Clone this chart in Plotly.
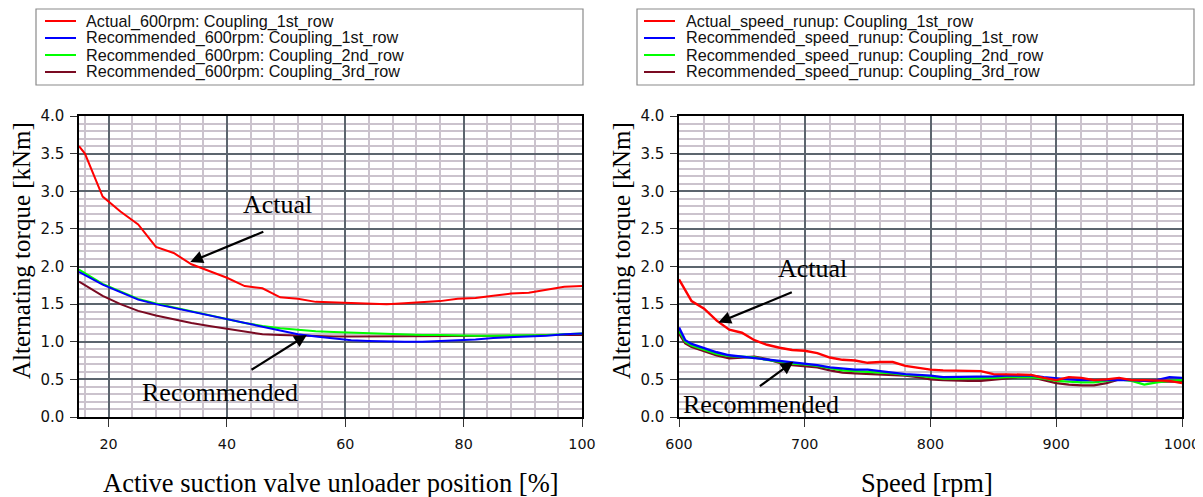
import plotly.graph_objects as go

# ---------------- data ----------------
pos_x = [15, 16, 19, 22, 25, 28, 31, 34, 37, 40, 43, 46, 49, 52, 55, 58, 61, 64, 67, 70,
         73, 76, 79, 82, 85, 88, 91, 94, 97, 100]
pos_actual_1st = [3.60, 3.50, 2.93, 2.73, 2.56, 2.26, 2.18, 2.03, 1.94, 1.85, 1.74, 1.71, 1.59, 1.57,
                  1.53, 1.52, 1.51, 1.50, 1.50, 1.51, 1.52, 1.54, 1.57, 1.58, 1.61, 1.64, 1.65, 1.69,
                  1.73, 1.74]
pos_rec_1st = [1.93, 1.89, 1.76, 1.66, 1.56, 1.50, 1.45, 1.40, 1.34, 1.29, 1.24, 1.19, 1.15, 1.10,
               1.07, 1.04, 1.02, 1.01, 1.00, 1.00, 1.00, 1.01, 1.02, 1.03, 1.05, 1.06, 1.07, 1.08,
               1.10, 1.11]
pos_rec_2nd = [1.96, 1.91, 1.77, 1.67, 1.57, 1.51, 1.46, 1.41, 1.35, 1.30, 1.25, 1.21, 1.18, 1.16,
               1.14, 1.13, 1.12, 1.11, 1.10, 1.10, 1.09, 1.09, 1.08, 1.08, 1.08, 1.08, 1.08, 1.09,
               1.10, 1.11]
pos_rec_3rd = [1.80, 1.75, 1.61, 1.50, 1.41, 1.35, 1.30, 1.25, 1.21, 1.17, 1.13, 1.10, 1.09, 1.08,
               1.07, 1.07, 1.07, 1.07, 1.08, 1.08, 1.08, 1.08, 1.08, 1.08, 1.08, 1.08, 1.08, 1.09,
               1.09, 1.09]

spd_x = [600, 605, 610, 620, 630, 640, 650, 660, 670, 680, 690, 700, 710, 720, 730, 740, 750, 760,
         770, 780, 790, 800, 810, 820, 830, 840, 850, 860, 870, 880, 890, 900, 910, 920, 930, 940,
         950, 960, 970, 980, 990, 1000]
spd_actual_1st = [1.83, 1.68, 1.54, 1.44, 1.28, 1.16, 1.12, 1.02, 0.96, 0.92, 0.89, 0.88, 0.85, 0.79,
                  0.76, 0.75, 0.72, 0.73, 0.73, 0.68, 0.65, 0.63, 0.62, 0.62, 0.61, 0.61, 0.57, 0.57,
                  0.56, 0.56, 0.52, 0.49, 0.53, 0.52, 0.49, 0.50, 0.52, 0.49, 0.49, 0.49, 0.48, 0.45]
spd_rec_1st = [1.19, 1.02, 0.97, 0.91, 0.86, 0.82, 0.80, 0.78, 0.76, 0.74, 0.72, 0.71, 0.69, 0.66,
               0.64, 0.63, 0.63, 0.61, 0.59, 0.57, 0.56, 0.55, 0.53, 0.53, 0.53, 0.53, 0.54, 0.55,
               0.55, 0.55, 0.53, 0.51, 0.50, 0.49, 0.49, 0.50, 0.50, 0.49, 0.48, 0.49, 0.53, 0.52]
spd_rec_2nd = [1.15, 1.00, 0.95, 0.89, 0.84, 0.81, 0.80, 0.79, 0.76, 0.73, 0.71, 0.70, 0.68, 0.65,
               0.62, 0.61, 0.60, 0.59, 0.58, 0.56, 0.55, 0.53, 0.51, 0.51, 0.51, 0.51, 0.52, 0.53,
               0.53, 0.53, 0.51, 0.48, 0.47, 0.46, 0.46, 0.48, 0.50, 0.48, 0.43, 0.46, 0.48, 0.49]
spd_rec_3rd = [1.11, 0.98, 0.93, 0.87, 0.82, 0.78, 0.79, 0.80, 0.77, 0.72, 0.69, 0.67, 0.66, 0.62,
               0.59, 0.58, 0.57, 0.56, 0.55, 0.55, 0.53, 0.50, 0.49, 0.48, 0.48, 0.48, 0.50, 0.52,
               0.53, 0.53, 0.49, 0.45, 0.43, 0.42, 0.42, 0.45, 0.50, 0.49, 0.47, 0.47, 0.47, 0.47]

left_names = ["Actual_600rpm: Coupling_1st_row", "Recommended_600rpm: Coupling_1st_row",
              "Recommended_600rpm: Coupling_2nd_row", "Recommended_600rpm: Coupling_3rd_row"]
right_names = ["Actual_speed_runup: Coupling_1st_row", "Recommended_speed_runup: Coupling_1st_row",
               "Recommended_speed_runup: Coupling_2nd_row", "Recommended_speed_runup: Coupling_3rd_row"]
series_colors = ["#ff0000", "#0000ff", "#00ff00", "#7a0a22"]

left_ticks = [20, 40, 60, 80, 100]
right_ticks = [600, 700, 800, 900, 1000]
y_ticks = [0.0, 0.5, 1.0, 1.5, 2.0, 2.5, 3.0, 3.5, 4.0]

# ---------------- layout helpers ----------------
OFF = 8                      # page body margin
W, H = 1203 - OFF, 497 - OFF  # figure size so it fits the window
def fx(px):
    return (px - OFF) / W
def fy(py):
    return 1 - (py - OFF) / H

SERIF = "Liberation Serif, Times New Roman, serif"
SANS = "Liberation Sans, Arial, sans-serif"
YTICKF = dict(family="DejaVu Sans, Arial, sans-serif", size=15, color="#111111")
XTICKF = dict(family="DejaVu Sans, Arial, sans-serif", size=14.3, color="#111111")

fig = go.Figure()

left_series = [pos_actual_1st, pos_rec_1st, pos_rec_2nd, pos_rec_3rd]
right_series = [spd_actual_1st, spd_rec_1st, spd_rec_2nd, spd_rec_3rd]
draw_order = [3, 2, 1, 0]
for i in draw_order:
    fig.add_trace(go.Scatter(x=pos_x, y=left_series[i], mode="lines", name=left_names[i],
                             line=dict(color=series_colors[i], width=2), showlegend=False,
                             xaxis="x", yaxis="y"))
for i in draw_order:
    fig.add_trace(go.Scatter(x=spd_x, y=right_series[i], mode="lines", name=right_names[i],
                             line=dict(color=series_colors[i], width=2.4), showlegend=False,
                             xaxis="x2", yaxis="y2"))

MAJ = "#5c656e"
MIN = "#cbc3cd"
def xaxis_cfg(dom, rng, ticks, anchor, minor):
    return dict(domain=dom, range=rng, tickvals=ticks, showgrid=True, gridcolor=MAJ, gridwidth=1.5,
                minor=dict(dtick=minor, tick0=0, showgrid=True, gridcolor=MIN, gridwidth=1.6, ticks=""),
                showline=True, linecolor="black", linewidth=1.5, mirror=True, anchor=anchor,
                ticks="outside", ticklen=8, tickwidth=1.2, tickcolor="#333333", automargin=False,
                tickfont=XTICKF, zeroline=False, fixedrange=True, ticklabelstandoff=5)

def yaxis_cfg(dom, anchor):
    return dict(domain=dom, range=[0, 4], tickvals=y_ticks, tickformat=".1f", showgrid=True,
                gridcolor=MAJ, gridwidth=1.5, anchor=anchor, automargin=False,
                minor=dict(dtick=0.1, tick0=0, showgrid=True, gridcolor=MIN, gridwidth=1.6, ticks=""),
                showline=True, linecolor="black", linewidth=1.5, mirror=True,
                ticks="outside", ticklen=7, tickwidth=1.2, tickcolor="#333333",
                tickfont=YTICKF, zeroline=False, fixedrange=True, ticklabelstandoff=3)

ydom = [fy(417), fy(116)]
fig.update_layout(
    width=W, height=H, margin=dict(l=0, r=0, t=0, b=0, pad=0, autoexpand=False),
    paper_bgcolor="white", plot_bgcolor="white", showlegend=False,
    xaxis=xaxis_cfg([fx(79), fx(582)], [15, 100], left_ticks, "y", 4),
    yaxis=yaxis_cfg(ydom, "x"),
    xaxis2=xaxis_cfg([fx(679), fx(1182)], [600, 1000], right_ticks, "y2", 20),
    yaxis2=yaxis_cfg(ydom, "x2"),
)

annotations = []
shapes = []

ytitle_font = dict(family=SERIF, size=25, color="black")
xtitle_font = dict(family=SERIF, size=26.5, color="black")
annotations += [
    dict(text="Alternating torque [kNm]", xref="paper", yref="paper", x=fx(21), y=fy(251),
         textangle=-90, showarrow=False, font=ytitle_font, xanchor="center", yanchor="middle"),
    dict(text="Alternating torque [kNm]", xref="paper", yref="paper", x=fx(621), y=fy(251),
         textangle=-90, showarrow=False, font=ytitle_font, xanchor="center", yanchor="middle"),
    dict(text="Active suction valve unloader position [%]", xref="paper", yref="paper",
         x=fx(331), y=fy(483), showarrow=False, font=xtitle_font, xanchor="center", yanchor="middle"),
    dict(text="Speed [rpm]", xref="paper", yref="paper", x=fx(927), y=fy(483), showarrow=False,
         font=xtitle_font, xanchor="center", yanchor="middle"),
]

lab_font = dict(family=SERIF, size=26, color="black")
annotations += [
    dict(text="Actual", xref="x", yref="y", x=48.6, y=2.82, showarrow=False, font=lab_font),
    dict(text="Recommended", xref="x", yref="y", x=38.8, y=0.32, showarrow=False, font=lab_font),
    dict(text="Actual", xref="x2", yref="y2", x=706, y=1.98, showarrow=False, font=lab_font),
    dict(text="Recommended", xref="x2", yref="y2", x=665, y=0.17, showarrow=False, font=lab_font),
]
arrow_kw = dict(text="", showarrow=True, arrowhead=2, arrowsize=1.15, arrowwidth=2.2,
                arrowcolor="black", standoff=0)
annotations += [
    dict(xref="x", yref="y", axref="x", ayref="y", x=33.8, y=2.06, ax=46.4, ay=2.47, **arrow_kw),
    dict(xref="x", yref="y", axref="x", ayref="y", x=53.5, y=1.09, ax=43.9, ay=0.615, **arrow_kw),
    dict(xref="x2", yref="y2", axref="x2", ayref="y2", x=631.3, y=1.255, ax=690.9, ay=1.665, **arrow_kw),
    dict(xref="x2", yref="y2", axref="x2", ayref="y2", x=690.9, y=0.735, ax=663.1, ay=0.395, **arrow_kw),
]

leg_rows = [21, 38, 55, 72]
for (bx0, bx1, lx0, lx1, tx, names) in [(36, 583, 45, 76, 84, left_names),
                                          (637, 1194, 644, 675, 684, right_names)]:
    shapes.append(dict(type="rect", xref="paper", yref="paper", x0=fx(bx0), x1=fx(bx1),
                       y0=fy(85), y1=fy(9), line=dict(color="#8a8a8a", width=1.2),
                       fillcolor="white", layer="above"))
    for k, nm in enumerate(names):
        shapes.append(dict(type="line", xref="paper", yref="paper", x0=fx(lx0), x1=fx(lx1),
                           y0=fy(leg_rows[k]), y1=fy(leg_rows[k]),
                           line=dict(color=series_colors[k], width=2)))
        annotations.append(dict(text=nm, xref="paper", yref="paper", x=fx(tx), y=fy(leg_rows[k]),
                                xanchor="left", yanchor="middle", showarrow=False,
                                font=dict(family=SANS, size=16.2, color="#111111")))

fig.update_layout(annotations=annotations, shapes=shapes)
fig.write_html("out.html")
